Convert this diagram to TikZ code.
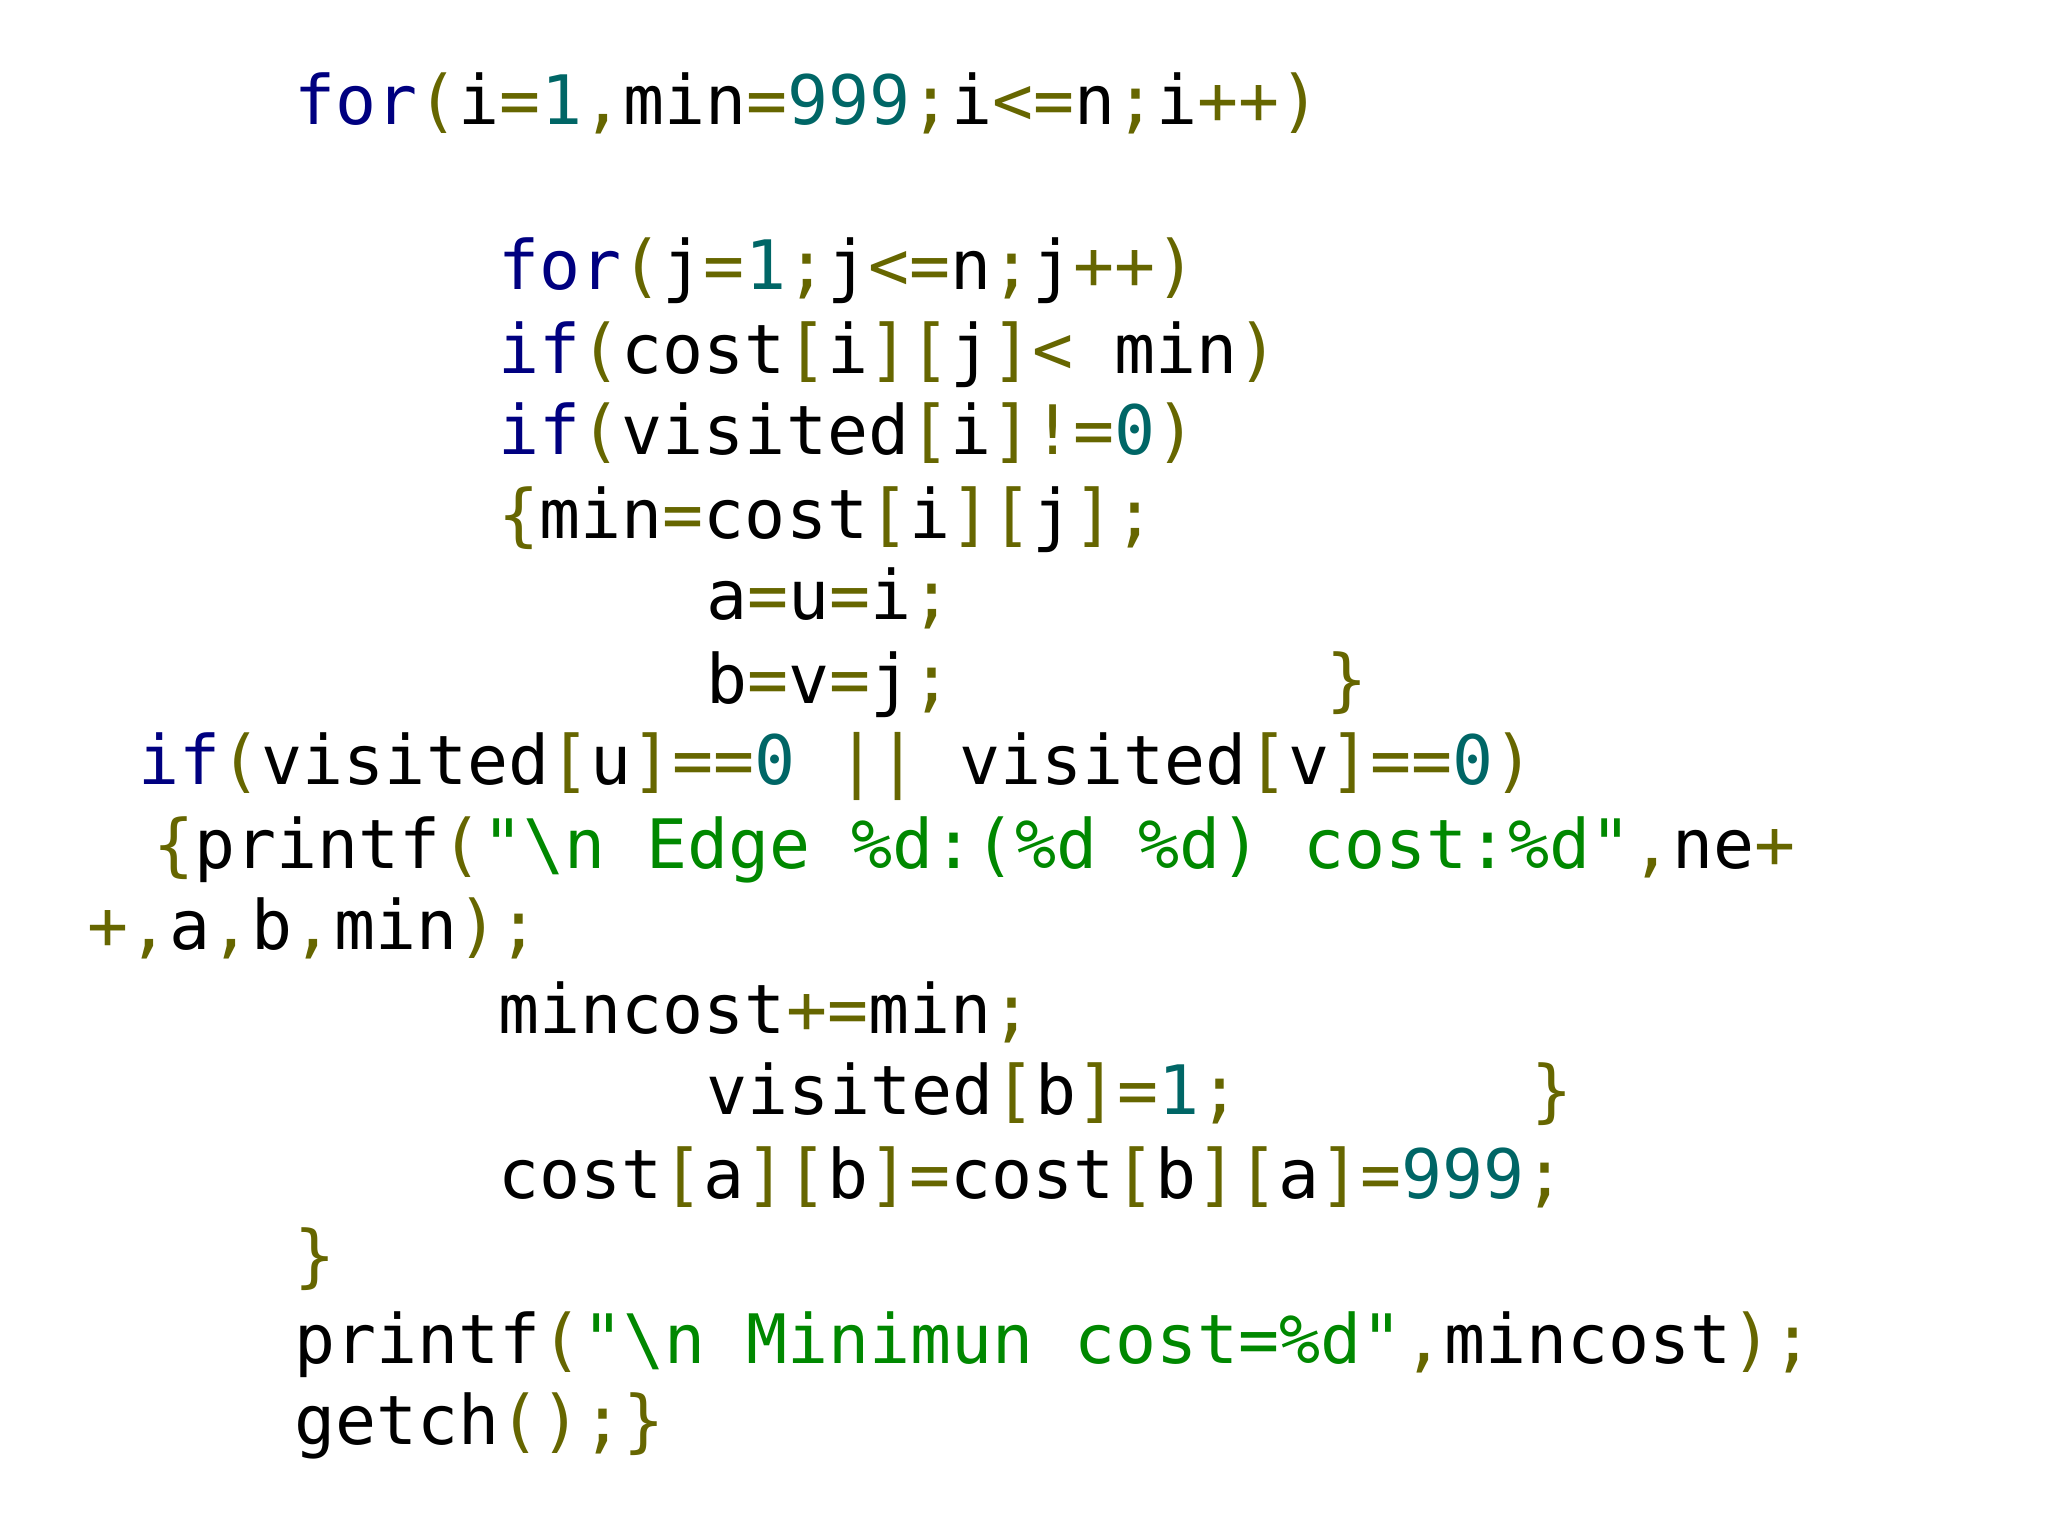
\documentclass[tikz,border=0pt]{standalone}
\usepackage{fontspec}
\newfontfamily\codefont{DejaVu Sans Mono}
\definecolor{ckw}{RGB}{0,0,128}
\definecolor{cpu}{RGB}{102,102,0}
\definecolor{cnm}{RGB}{0,102,102}
\definecolor{cst}{RGB}{0,136,0}
\newcommand{\Kw}[1]{\textcolor{ckw}{#1}}
\newcommand{\Pu}[1]{\textcolor{cpu}{#1}}
\newcommand{\Nm}[1]{\textcolor{cnm}{#1}}
\newcommand{\St}[1]{\textcolor{cst}{#1}}
\tikzset{code/.style={anchor=base west,inner sep=0pt,font=\codefont\fontsize{19.4pt}{22pt}\selectfont}}
\begin{document}
\begin{tikzpicture}
\useasboundingbox (0,0) rectangle (20.48,-15.36);
\def\ly#1{-#1*0.013196+0.07}
\node[code] (l1) at (2.94,\ly{100}) {\Kw{for}\Pu{(}i\Pu{=}\Nm{1}\Pu{,}min\Pu{=}\Nm{999}\Pu{;}i\Pu{<=}n\Pu{;}i\Pu{++)}};
\node[code] (l2) at (4.98,\ly{225}) {\Kw{for}\Pu{(}j\Pu{=}\Nm{1}\Pu{;}j\Pu{<=}n\Pu{;}j\Pu{++)}};
\node[code] (l3) at (4.98,\ly{288}) {\Kw{if}\Pu{(}cost\Pu{[}i\Pu{][}j\Pu{]<}\ min\Pu{)}};
\node[code] (l4) at (4.98,\ly{350}) {\Kw{if}\Pu{(}visited\Pu{[}i\Pu{]!=}\Nm{0}\Pu{)}};
\node[code] (l5) at (4.98,\ly{413}) {\Pu{\{}min\Pu{=}cost\Pu{[}i\Pu{][}j\Pu{];}};
\node[code] (l6) at (7.06,\ly{475}) {a\Pu{=}u\Pu{=}i\Pu{;}};
\node[code] (l7) at (7.06,\ly{538}) {b\Pu{=}v\Pu{=}j\Pu{;}};
\node[code] (b7) at (13.26,\ly{538}) {\Pu{\}}};
\node[code] (l8) at (1.38,\ly{600}) {\Kw{if}\Pu{(}visited\Pu{[}u\Pu{]==}\Nm{0}\ \Pu{||}\ visited\Pu{[}v\Pu{]==}\Nm{0}\Pu{)}};
\node[code] (l9) at (1.53,\ly{663}) {\Pu{\{}printf\Pu{(}\St{"\textbackslash n Edge \%d:(\%d \%d) cost:\%d"}\Pu{,}ne\Pu{+}};
\node[code] (l10) at (0.87,\ly{725}) {\Pu{+,}a\Pu{,}b\Pu{,}min\Pu{);}};
\node[code] (l11) at (4.98,\ly{788}) {mincost\Pu{+=}min\Pu{;}};
\node[code] (l12) at (7.06,\ly{850}) {visited\Pu{[}b\Pu{]=}\Nm{1}\Pu{;}};
\node[code] (b12) at (15.31,\ly{850}) {\Pu{\}}};
\node[code] (l13) at (4.98,\ly{913}) {cost\Pu{[}a\Pu{][}b\Pu{]=}cost\Pu{[}b\Pu{][}a\Pu{]=}\Nm{999}\Pu{;}};
\node[code] (l14) at (2.94,\ly{975}) {\Pu{\}}};
\node[code] (l15) at (2.94,\ly{1038}) {printf\Pu{(}\St{"\textbackslash n Minimun cost=\%d"}\Pu{,}mincost\Pu{);}};
\node[code] (l16) at (2.94,\ly{1100}) {getch\Pu{();}\Pu{\}}};
\end{tikzpicture}
\end{document}
